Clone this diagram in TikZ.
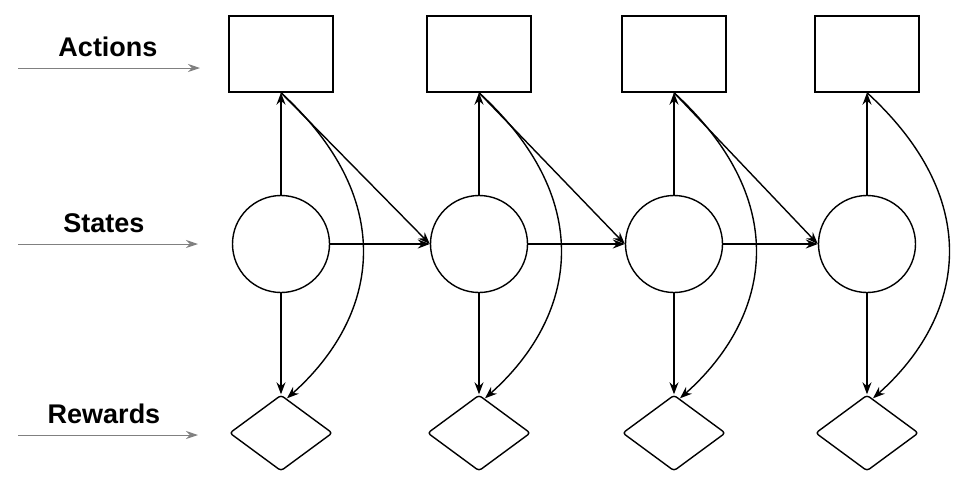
\documentclass[tikz,border=0pt]{standalone}
\usepackage{fontspec}
\setmainfont{Liberation Sans}
\usetikzlibrary{arrows,arrows.meta,shapes.geometric}

\begin{document}
\begin{tikzpicture}[x=1pt,y=-1pt]
    \tikzset{
      actionnode/.style={rectangle,draw=black,line width=1.4pt,minimum width=104pt,minimum height=76pt},
      statenode/.style={circle,draw=black,line width=1.4pt,minimum size=97pt,inner sep=0pt},
      rewardnode/.style={diamond,draw=black,line width=1.4pt,rounded corners=3pt,minimum width=103pt,minimum height=76pt,inner sep=0pt},
      rowlabel/.style={font=\fontsize{27}{30}\selectfont\bfseries},
      arrow/.style={-{Stealth[length=12pt,width=9pt,inset=4pt]},line width=1.4pt},
      rowarrow/.style={-{Stealth[length=12pt,width=8pt,inset=4pt]},draw=gray,line width=1pt}
    }
    \useasboundingbox (0,0) rectangle (970,499);
    \node[rowlabel](actionslabel) at (108,47){Actions};
    \node[rowlabel](stateslabel) at (104,223){States};
    \node[rowlabel](rewardslabel) at (104,414){Rewards};
    \coordinate (astart) at (18,68); \coordinate (aend) at (200,68);
    \coordinate (sstart) at (18,244); \coordinate (send) at (198,244);
    \coordinate (rstart) at (18,435); \coordinate (rend) at (198,435);
    \draw[rowarrow](astart) -- (aend);
    \draw[rowarrow](sstart) -- (send);
    \draw[rowarrow](rstart) -- (rend);
    \foreach \i/\x in {1/281,2/479,3/674,4/867}{
      \node[actionnode](action\i) at (\x,54){};
      \node[statenode](state\i) at (\x,244){};
      \node[rewardnode](reward\i) at (\x,433){};
      \draw[arrow](state\i.north) -- (action\i.south);
      \draw[arrow](state\i.south) -- (reward\i.north);
      \draw[arrow](action\i.south) .. controls +(120,110) and +(90,-80) .. ([xshift=6pt,yshift=-4pt]reward\i.north);
    }
    \foreach \i/\j in {1/2,2/3,3/4}{
      \draw[arrow](action\i.south) -- (state\j.west);
      \draw[arrow](state\i.east) -- (state\j.west);
    }
\end{tikzpicture}
\end{document}
